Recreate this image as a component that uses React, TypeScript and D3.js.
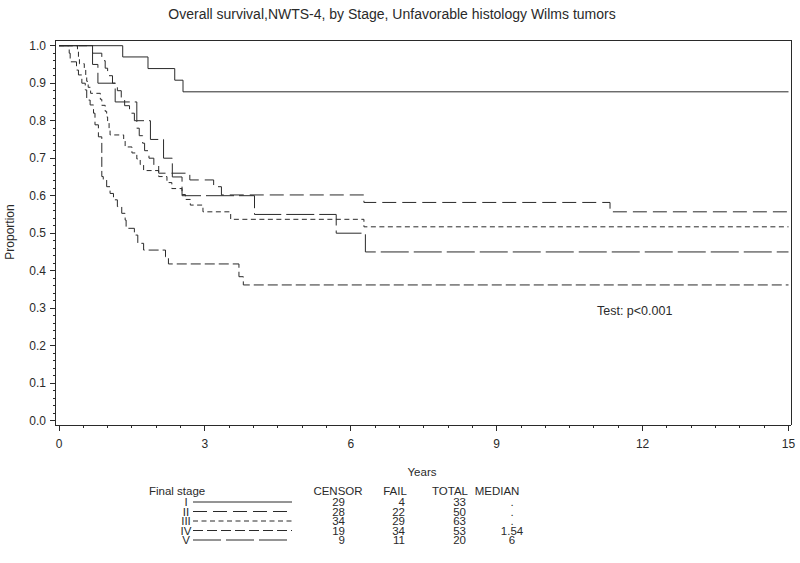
import React from "react";
import * as d3 from "d3";

// ---- Data ----
const stageLabels = ["I", "II", "III", "IV", "V"];
const censorCounts = [29, 28, 34, 19, 9];
const failCounts = [4, 22, 29, 34, 11];
const totalCounts = [33, 50, 63, 53, 20];
const medianLabels = [".", ".", ".", "1.54", "6"];

const stageITimes = [0, 1.31, 1.83, 2.38, 2.55];
const stageISurv = [1, 0.970, 0.939, 0.908, 0.877];

const stageIITimes = [0, 0.69, 0.88, 0.95, 1.0, 1.1, 1.2, 1.28, 1.35, 1.45, 1.55, 1.6, 1.65, 1.72, 1.76, 1.85, 1.95, 2.05, 2.69, 3.18, 3.34, 6.27, 11.33];
const stageIISurv = [1, 0.98, 0.96, 0.94, 0.92, 0.90, 0.88, 0.86, 0.84, 0.82, 0.80, 0.78, 0.76, 0.74, 0.72, 0.70, 0.68, 0.66, 0.642, 0.624, 0.602, 0.582, 0.557];

const stageIIITimes = [0, 0.38, 0.40, 0.42, 0.52, 0.55, 0.57, 0.60, 0.65, 0.85, 0.88, 0.95, 0.98, 1.0, 1.03, 1.05, 1.33, 1.36, 1.5, 1.6, 1.67, 1.74, 2.05, 2.22, 2.32, 2.53, 2.6, 2.7, 2.96, 3.53, 6.27];
const stageIIISurv = [1, 0.984, 0.968, 0.952, 0.937, 0.921, 0.905, 0.889, 0.873, 0.857, 0.841, 0.825, 0.81, 0.794, 0.778, 0.762, 0.746, 0.73, 0.714, 0.698, 0.683, 0.667, 0.651, 0.635, 0.619, 0.603, 0.59, 0.575, 0.557, 0.537, 0.517];

const stageIVTimes = [0, 0.21, 0.23, 0.36, 0.40, 0.47, 0.54, 0.57, 0.64, 0.71, 0.74, 0.81, 0.88, 0.91, 0.98, 1.05, 1.12, 1.2, 1.29, 1.36, 1.38, 1.55, 1.62, 1.74, 2.19, 2.25, 3.70, 3.79];
const stageIVSurv = [1, 0.98, 0.957, 0.935, 0.922, 0.90, 0.882, 0.855, 0.842, 0.82, 0.789, 0.757, 0.651, 0.642, 0.624, 0.606, 0.589, 0.571, 0.553, 0.535, 0.513, 0.495, 0.473, 0.455, 0.437, 0.418, 0.384, 0.362];

const stageVTimes = [0, 0.69, 0.80, 1.155, 1.6, 1.88, 2.15, 2.33, 2.53, 4.02, 5.70, 6.30];
const stageVSurv = [1, 0.95, 0.90, 0.85, 0.80, 0.75, 0.70, 0.65, 0.60, 0.55, 0.50, 0.45];

const xMajorTicks = [0, 3, 6, 9, 12, 15];
const yMajorTicks = [0, 0.1, 0.2, 0.3, 0.4, 0.5, 0.6, 0.7, 0.8, 0.9, 1.0];

const titleText = "Overall survival,NWTS-4, by Stage, Unfavorable histology Wilms tumors";

// ---- Styles ----
const dashes = ["", "14,6", "5,3.5", "10,4", "28,5"];
const FONT = "'Liberation Sans', Arial, sans-serif";
const INK = "#2a2a2a";

export default function App() {
  const W = 800, H = 563;
  const x = d3.scaleLinear().domain([0, 15]).range([59, 788.5]);
  const y = d3.scaleLinear().domain([0, 1]).range([420.7, 45.7]);
  const frame = { l: 55, t: 40, r: 791, b: 425 };

  const series = [
    [stageITimes, stageISurv],
    [stageIITimes, stageIISurv],
    [stageIIITimes, stageIIISurv],
    [stageIVTimes, stageIVSurv],
    [stageVTimes, stageVSurv],
  ];

  const line = d3
    .line<[number, number]>()
    .x((d) => x(d[0]))
    .y((d) => y(d[1]))
    .curve(d3.curveStepAfter);

  const xMinor = d3.range(0, 15.001, 0.5);
  const yMinor = d3.range(0, 1.0001, 0.02);

  const legendRowY = [502, 511.5, 521, 530.5, 540];

  return (
    <svg width={W} height={H} style={{ position: "absolute", left: 0, top: 0, background: "#fff" }} fontFamily={FONT}>
      <rect x={0} y={0} width={W} height={H} fill="#fff" />
      <text x={392} y={19} textAnchor="middle" fontSize={14} fill={INK}>{titleText}</text>

      {/* frame */}
      <g stroke={INK} strokeWidth={1} fill="none" shapeRendering="crispEdges">
        <line x1={frame.l} x2={frame.r} y1={frame.t} y2={frame.t} />
        <line x1={frame.r} x2={frame.r} y1={frame.t} y2={frame.b} />
        <line x1={frame.l} x2={frame.r} y1={frame.b} y2={frame.b} />
        <line x1={frame.l} x2={frame.l} y1={frame.t} y2={frame.b} />
      </g>

      {/* y ticks */}
      <g stroke={INK} strokeWidth={1} shapeRendering="crispEdges">
        {yMinor.map((v, i) => (
          <line key={"ym" + i} x1={frame.l - 2} x2={frame.l} y1={y(v)} y2={y(v)} />
        ))}
        {yMajorTicks.map((v, i) => (
          <line key={"yM" + i} x1={frame.l - 5} x2={frame.l} y1={y(v)} y2={y(v)} />
        ))}
      </g>
      {yMajorTicks.map((v, i) => (
        <text key={"yl" + i} x={46} y={y(v) + 4} textAnchor="end" fontSize={12} fill={INK}>
          {d3.format(".1f")(v)}
        </text>
      ))}
      <text transform={`translate(14,232) rotate(-90)`} textAnchor="middle" fontSize={12} fill={INK}>Proportion</text>

      {/* x ticks */}
      <g stroke={INK} strokeWidth={1} shapeRendering="crispEdges">
        {xMinor.map((v, i) => (
          <line key={"xm" + i} x1={x(v)} x2={x(v)} y1={frame.b} y2={frame.b + 3} />
        ))}
        {xMajorTicks.map((v, i) => (
          <line key={"xM" + i} x1={x(v)} x2={x(v)} y1={frame.b} y2={frame.b + 6} />
        ))}
      </g>
      {xMajorTicks.map((v, i) => (
        <text key={"xl" + i} x={x(v)} y={448} textAnchor="middle" fontSize={12} fill={INK}>{v}</text>
      ))}
      <text x={422} y={476} textAnchor="middle" fontSize={11.5} fill={INK}>Years</text>

      {/* curves */}
      <g fill="none" stroke={INK} strokeWidth={1}>
        {series.map(([ts, ss], i) => {
          const pts: [number, number][] = ts.map((t, j) => [t, ss[j]] as [number, number]);
          pts.push([15, ss[ss.length - 1]]);
          return <path key={"c" + i} d={line(pts) || ""} strokeDasharray={dashes[i] || undefined} />;
        })}
      </g>

      <text x={597} y={315} fontSize={12.5} fill={INK}>Test: p&lt;0.001</text>

      {/* legend table */}
      <g fontSize={11.5} fill={INK}>
        <text x={149} y={495}>Final stage</text>
        <text x={338} y={495} textAnchor="middle">CENSOR</text>
        <text x={395} y={495} textAnchor="middle">FAIL</text>
        <text x={450} y={495} textAnchor="middle">TOTAL</text>
        <text x={497} y={495} textAnchor="middle">MEDIAN</text>
        {stageLabels.map((s, i) => (
          <g key={"lg" + i}>
            <text x={186} y={legendRowY[i] + 4} textAnchor="middle">{s}</text>
            <line x1={193} x2={292} y1={legendRowY[i]} y2={legendRowY[i]} stroke={INK} strokeWidth={1} strokeDasharray={dashes[i] || undefined} />
            <text x={345} y={legendRowY[i] + 4} textAnchor="end">{censorCounts[i]}</text>
            <text x={405} y={legendRowY[i] + 4} textAnchor="end">{failCounts[i]}</text>
            <text x={466} y={legendRowY[i] + 4} textAnchor="end">{totalCounts[i]}</text>
            <text x={512} y={legendRowY[i] + 4} textAnchor="middle">{medianLabels[i]}</text>
          </g>
        ))}
      </g>
    </svg>
  );
}
